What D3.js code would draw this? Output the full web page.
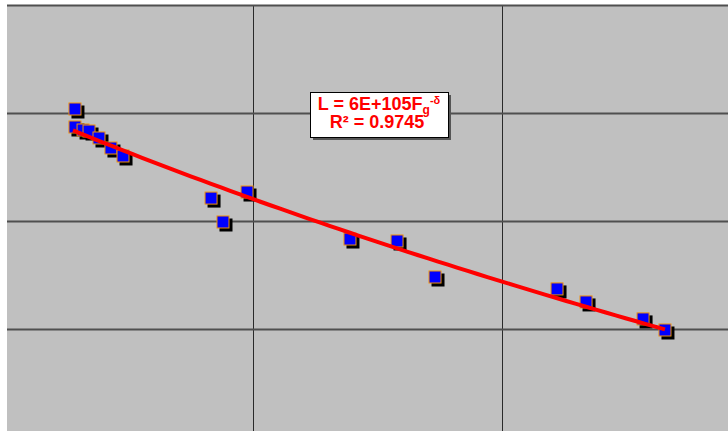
<!DOCTYPE html>
<html>
<head>
<meta charset="utf-8">
<script src="https://cdn.jsdelivr.net/npm/d3@7"></script>
<style>
  html, body { margin: 0; padding: 0; background: #ffffff; }
  svg { display: block; }
</style>
</head>
<body>
<svg id="chart" width="728" height="433"></svg>
<script>
// Observations: grinding force Fg against life L
const fgValues = [1.0570e9, 1.0570e9, 1.0635e9, 1.0683e9, 1.0763e9, 1.0859e9, 1.0956e9,
                  1.1663e9, 1.1759e9, 1.1952e9, 1.2779e9, 1.3157e9, 1.3462e9,
                  1.4442e9, 1.4675e9, 1.5133e9, 1.5309e9];
const lValues  = [1089, 742, 696, 681, 587, 474, 400,
                  163, 97.9, 185.5, 68.1, 65.3, 30.3,
                  23.5, 17.8, 12.4, 9.79];

// Power-law trend L = a * Fg^-delta
const fitCoef = 6e105;
const fitDelta = 11.408;
const fitRange = [1.0554e9, 1.5309e9];
const fitSteps = 60;

// Gridline positions
const xGridTicks = [1.0e9, 1.2e9, 1.4e9];
const yGridTicks = [10, 100, 1000, 10000];

const eqMain = "L = 6E+105F";
const eqSub = "g";
const eqSup = "-\u03B4";
const r2Text = "R\u00B2 = 0.9745";

const svg = d3.select("#chart");
const plot = { left: 7, top: 5, right: 728, bottom: 431 };

const x = d3.scaleLinear().domain([1.0e9, 1.6e9]).range([4, 751]);
const y = d3.scaleLog().domain([1, 1e4]).range([437, 5]);

svg.append("defs").append("clipPath").attr("id", "plotClip")
  .append("rect")
  .attr("x", plot.left).attr("y", plot.top - 1)
  .attr("width", plot.right - plot.left).attr("height", plot.bottom - plot.top + 1);

// Plot area background
svg.append("rect")
  .attr("x", plot.left).attr("y", plot.top)
  .attr("width", plot.right - plot.left).attr("height", plot.bottom - plot.top)
  .attr("fill", "#c0c0c0");

const grid = svg.append("g").attr("clip-path", "url(#plotClip)");

// Vertical gridlines
grid.append("g")
  .attr("transform", `translate(0,${plot.bottom})`)
  .call(d3.axisBottom(x).tickValues(xGridTicks).tickSize(-(plot.bottom - plot.top)).tickFormat(""))
  .call(g => g.select(".domain").remove())
  .call(g => g.selectAll(".tick line").attr("stroke", "#2a2a2a").attr("stroke-width", 1));

// Horizontal gridlines
grid.append("g")
  .attr("transform", `translate(${plot.left},0)`)
  .call(d3.axisLeft(y).tickValues(yGridTicks).tickSize(-(plot.right - plot.left)).tickFormat(""))
  .call(g => g.select(".domain").remove())
  .call(g => g.selectAll(".tick line").attr("stroke", "#4f4f4f").attr("stroke-width", 2));

// Data markers: blue squares with orange edge and black drop shadow
const pts = fgValues.map((v, i) => ({ fg: v, l: lValues[i] }));
const markerSize = 13;
const marks = svg.append("g").attr("clip-path", "url(#plotClip)");
const m = marks.selectAll("g.pt").data(pts).join("g").attr("class", "pt")
  .attr("transform", d => `translate(${x(d.fg)},${y(d.l)})`);
m.append("rect")
  .attr("x", -markerSize / 2 + 3).attr("y", -markerSize / 2 + 3)
  .attr("width", markerSize).attr("height", markerSize)
  .attr("fill", "#000000");
m.append("rect")
  .attr("x", -markerSize / 2 + 0.5).attr("y", -markerSize / 2 + 0.5)
  .attr("width", markerSize - 1).attr("height", markerSize - 1)
  .attr("fill", "#0000ff").attr("stroke", "#f0900a").attr("stroke-width", 1);

// Trend curve from the fitted power law
const fitPts = d3.range(fitSteps + 1).map(i => {
  const fg = fitRange[0] + (fitRange[1] - fitRange[0]) * i / fitSteps;
  return { fg, l: fitCoef * Math.pow(fg, -fitDelta) };
});
svg.append("path")
  .datum(fitPts)
  .attr("fill", "none")
  .attr("stroke", "#ff0000")
  .attr("stroke-width", 4)
  .attr("stroke-linecap", "butt")
  .attr("d", d3.line().x(d => x(d.fg)).y(d => y(d.l)));

// Equation box
const box = { x: 310, y: 92, w: 138, h: 45 };
svg.append("rect")
  .attr("x", box.x + 3).attr("y", box.y + 3)
  .attr("width", box.w).attr("height", box.h)
  .attr("fill", "#555555");
svg.append("rect")
  .attr("x", box.x + 0.5).attr("y", box.y + 0.5)
  .attr("width", box.w).attr("height", box.h)
  .attr("fill", "#ffffff").attr("stroke", "#000000").attr("stroke-width", 1);

const font = "'Liberation Sans', Arial, sans-serif";
const eq = svg.append("text")
  .attr("x", box.x + box.w / 2).attr("y", 109.5)
  .attr("text-anchor", "middle")
  .attr("font-family", font).attr("font-weight", "bold")
  .attr("font-size", 18).attr("fill", "#ff0000");
eq.append("tspan").text(eqMain);
eq.append("tspan").attr("font-size", 12).attr("dy", 4).text(eqSub);
eq.append("tspan").attr("font-size", 11).attr("dy", -10).text(eqSup);

svg.append("text")
  .attr("x", box.x + box.w / 2 - 2).attr("y", 127.5)
  .attr("text-anchor", "middle")
  .attr("font-family", font).attr("font-weight", "bold")
  .attr("font-size", 18).attr("fill", "#ff0000")
  .text(r2Text);
</script>
</body>
</html>
